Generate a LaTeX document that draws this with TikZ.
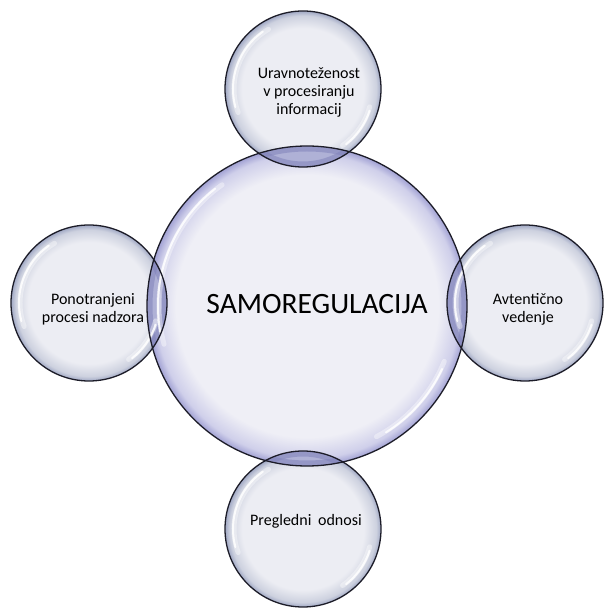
\documentclass[tikz,border=0pt]{standalone}
\usepackage{fontspec}
\setmainfont{Carlito}

% bubble colours
\definecolor{corein}{HTML}{EFEFF6}
\definecolor{coremid}{HTML}{CFCFEA}
\definecolor{corerim}{HTML}{A2A2D4}
\definecolor{satin}{HTML}{ECEDF3}
\definecolor{satmid}{HTML}{CDD1DF}
\definecolor{satrim}{HTML}{A0A8C4}
\definecolor{lensfill}{HTML}{AFB1D6}
\definecolor{lensedge}{HTML}{8082BA}
\definecolor{rimdark}{HTML}{1C1C28}

% radial fills: 25bp is the rim of the circle
\pgfdeclareradialshading{coreball}{\pgfpoint{0bp}{0bp}}{%
  color(0bp)=(corein); color(20.5bp)=(corein); color(23.8bp)=(coremid);
  color(25bp)=(corerim); color(50bp)=(corerim)}
\pgfdeclareradialshading{satball}{\pgfpoint{0bp}{0bp}}{%
  color(0bp)=(satin); color(19.5bp)=(satin); color(23.5bp)=(satmid);
  color(25bp)=(satrim); color(50bp)=(satrim)}

\newcommand{\rcore}{160pt}
\newcommand{\rsat}{78pt}

\tikzset{
  bubblecore/.style={circle, inner sep=0pt, outer sep=0pt,
    minimum size=320pt, shading=coreball},
  bubblesat/.style={circle, inner sep=0pt, outer sep=0pt,
    minimum size=156pt, shading=satball},
  rimline/.style={draw=rimdark, line width=1.3pt},
  lensshade/.style={draw=lensedge, line width=11pt, opacity=0.55},
  glosswide/.style={draw=white, line width=5pt, line cap=round, opacity=0.4},
  glossthin/.style={draw=white, line width=2pt, line cap=round, opacity=0.85},
  bigtext/.style={font=\fontsize{29.5}{34}\selectfont, text=black},
  smalltext/.style={font=\fontsize{16}{18}\selectfont, align=center, text=black},
}

\begin{document}
\begin{tikzpicture}[x=1pt, y=1pt]
  \useasboundingbox (0,0) rectangle (604,608);

  % circles
  \node[bubblecore] (core)  at (307,302) {};
  \node[bubblesat]  (nup)   at (303,519) {};
  \node[bubblesat]  (ndown) at (303,79)  {};
  \node[bubblesat]  (nwest) at (89,305)  {};
  \node[bubblesat]  (neast) at (525,305) {};

  % overlaps between the core and each satellite
  \foreach \s in {nup,ndown,nwest,neast}{
    \begin{scope}
      \clip (core.center) circle[radius=\rcore];
      \fill[lensfill] (\s.center) circle[radius=\rsat];
      \clip (\s.center) circle[radius=\rsat];
      \draw[lensshade] (core.center) circle[radius=\rcore];
      \draw[lensshade] (\s.center) circle[radius=\rsat];
    \end{scope}
  }

  % glossy highlights
  \draw[glosswide] ([shift={(125:148pt)}]core.center) arc[start angle=125, end angle=195, radius=148pt];
  \draw[glossthin] ([shift={(128:149pt)}]core.center) arc[start angle=128, end angle=190, radius=149pt];
  \draw[glosswide] ([shift={(-22:148pt)}]core.center) arc[start angle=-22, end angle=-62, radius=148pt];
  \draw[glossthin] ([shift={(-25:149pt)}]core.center) arc[start angle=-25, end angle=-58, radius=149pt];
  \foreach \s in {nup,ndown,nwest,neast}{
    \draw[glosswide] ([shift={(120:69pt)}]\s.center) arc[start angle=120, end angle=200, radius=69pt];
    \draw[glossthin] ([shift={(125:70pt)}]\s.center) arc[start angle=125, end angle=195, radius=70pt];
    \draw[glosswide] ([shift={(-15:69pt)}]\s.center) arc[start angle=-15, end angle=-55, radius=69pt];
    \draw[glossthin] ([shift={(-18:70pt)}]\s.center) arc[start angle=-18, end angle=-52, radius=70pt];
  }

  % outlines
  \draw[rimline] (core.center) circle[radius=\rcore];
  \foreach \s in {nup,ndown,nwest,neast}{
    \draw[rimline] (\s.center) circle[radius=\rsat];
  }

  % labels
  \node[bigtext]   (tcore)  at (317,304) {SAMOREGULACIJA};
  \node[smalltext] (tup)    at (309,516) {Uravnoteženost\\v procesiranju\\informacij};
  \node[smalltext] (tdown)  at (306,87)  {Pregledni\hspace{0.42em}odnosi};
  \node[smalltext] (twest)  at (93,299)  {Ponotranjeni\\procesi nadzora};
  \node[smalltext] (teast)  at (528,299) {Avtentično\\vedenje};
\end{tikzpicture}
\end{document}
